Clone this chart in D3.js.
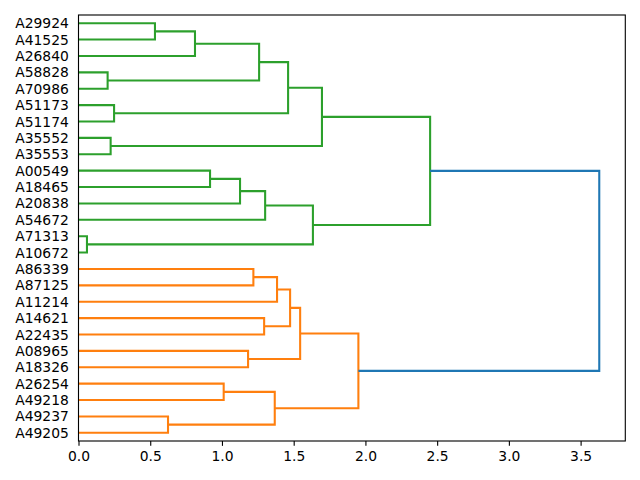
<!DOCTYPE html>
<html><head><meta charset="utf-8">
<script src="https://cdn.jsdelivr.net/npm/d3@7"></script>
<style>body{margin:0;background:#fff}svg{display:block}text{font-family:"DejaVu Sans",sans-serif}</style>
</head><body><svg id="c" width="640" height="480"></svg>
<script>
// Leaf labels, top to bottom
const leaves = ["A29924","A41525","A26840","A58828","A70986","A51173","A51174","A35552","A35553",
  "A00549","A18465","A20838","A54672","A71313","A10672",
  "A86339","A87125","A11214","A14621","A22435","A08965","A18326","A26254","A49218","A49237","A49205"];
// Merges (linkage): left child, right child, merge distance, new node id
const mergeLeft  = ["A29924","g1","A58828","g2","A51173","g4","A35552","g6","A00549","g9","g10","A71313","g11","g8",
                    "A86339","o1","A14621","o2","A08965","o4","A26254","A49237","o7","o6","G"];
const mergeRight = ["A41525","A26840","A70986","g3","A51174","g5","A35553","g7","A18465","A20838","A54672","A10672","g12","g13",
                    "A87125","A11214","A22435","o3","A18326","o5","A49218","A49205","o8","o9","O"];
const mergeHeight = [0.533,0.812,0.203,1.259,0.248,1.461,0.224,1.697,0.917,1.126,1.301,0.059,1.634,2.451,
                     1.219,1.384,1.294,1.475,1.182,1.545,1.012,0.624,1.368,1.951,3.630];
const mergeId    = ["g1","g2","g3","g4","g5","g6","g7","g8","g9","g10","g11","g12","g13","G",
                    "o1","o2","o3","o4","o5","o6","o7","o8","o9","O","R"];
// Flat clusters and their colours; links above them use aboveColor
const clusterRoots = ["G","O"];
const clusterColors = ["#2ca02c","#ff7f0e"];
const aboveColor = "#1f77b4";
const xTicks = [0.0, 0.5, 1.0, 1.5, 2.0, 2.5, 3.0, 3.5];
</script>
<script>
const merges = mergeId.map((id, i) => [mergeLeft[i], mergeRight[i], mergeHeight[i], id]);

const m = {left: 78.5, right: 625.3, top: 15, bottom: 441};
const svg = d3.select("#c");
const maxH = d3.max(mergeHeight);
const x = d3.scaleLinear().domain([0, maxH * 1.05]).range([m.left, m.right]);
const y = d3.scaleLinear().domain([0, leaves.length * 10]).range([m.bottom, m.top]);

// positions: leaf i (top to bottom) -> dendrogram coordinate (n-1-i)*10+5
const pos = {};
leaves.forEach((l, i) => pos[l] = {y: (leaves.length - 1 - i) * 10 + 5, h: 0});
merges.forEach(([a, b, h, id]) => { pos[id] = {y: (pos[a].y + pos[b].y) / 2, h: h}; });

// colour assignment
const color = {};
function paint(id, c) {
  color[id] = c;
  const mm = merges.find(d => d[3] === id);
  if (mm) { paint(mm[0], c); paint(mm[1], c); }
}
clusterRoots.forEach((id, k) => paint(id, clusterColors[k]));
merges.forEach(d => { if (!(d[3] in color)) color[d[3]] = aboveColor; });

const g = svg.append("g");
merges.forEach(([a, b, h, id]) => {
  const pa = pos[a], pb = pos[b];
  const pts = [[pa.h, pa.y], [h, pa.y], [h, pb.y], [pb.h, pb.y]];
  g.append("path")
    .attr("d", d3.line().x(p => x(p[0])).y(p => y(p[1]))(pts))
    .attr("fill", "none")
    .attr("stroke", color[id])
    .attr("stroke-width", 2.08)
    .attr("stroke-linejoin", "miter")
    .attr("stroke-linecap", "butt");
});

// y labels
svg.append("g").selectAll("text").data(leaves).join("text")
  .attr("x", m.left - 9.7)
  .attr("y", (d, i) => y((leaves.length - 1 - i) * 10 + 5))
  .attr("dy", "0.36em")
  .attr("text-anchor", "end")
  .attr("font-size", "13.89px")
  .attr("fill", "#000")
  .text(d => d);

// x axis
const xa = svg.append("g").attr("transform", `translate(0,${m.bottom})`)
  .call(d3.axisBottom(x).tickValues(xTicks).tickFormat(d3.format(".1f")).tickSize(4.86).tickPadding(4.86));
xa.select(".domain").remove();
xa.selectAll("line").attr("stroke", "#000").attr("stroke-width", 1.11);
xa.selectAll("text").attr("font-size", "13.89px").attr("fill", "#000").attr("font-family", "DejaVu Sans");

// frame
svg.append("rect").attr("x", m.left).attr("y", m.top)
  .attr("width", m.right - m.left).attr("height", m.bottom - m.top)
  .attr("fill", "none").attr("stroke", "#000").attr("stroke-width", 1.11);
</script>
</body></html>
